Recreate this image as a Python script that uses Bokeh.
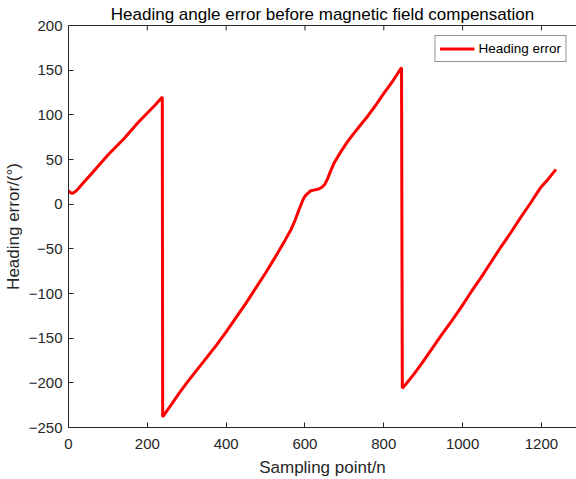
from bokeh.plotting import figure
from bokeh.models import Range1d, LinearAxis, FixedTicker, Legend, LegendItem
from bokeh.embed import file_html
from bokeh.resources import INLINE

# Data
sample_n = [0, 5, 10, 20, 30, 40, 60, 80, 100, 120, 140, 160, 180, 200, 220, 238,
            239, 250, 260, 280, 300, 325, 350, 375, 400, 425, 450, 475, 500, 525, 550,
            565, 575, 585, 595, 600, 607, 615, 625, 635, 643, 650, 657, 665, 675, 690,
            705, 720, 740, 760, 780, 800, 820, 832, 845,
            847, 857, 877, 897, 922, 947, 972, 997, 1022, 1047, 1072, 1097, 1122,
            1147, 1172, 1197, 1217, 1237]
heading_err = [15, 13, 12, 15, 20, 25, 35, 45, 55, 64, 73, 83, 93, 102, 111, 120,
               -238, -231, -225, -212, -200, -186, -172, -158, -143, -127, -111, -94, -77, -59, -40,
               -28, -18, -6, 5, 9, 12, 15, 16, 17, 19, 22, 28, 37, 47, 58,
               68, 77, 88, 99, 111, 124, 136, 144, 153,
               -206, -201, -190, -178, -162, -146, -131, -115, -98, -82, -65, -48, -32,
               -15, 1, 18, 28, 39]

x_ticks = [0, 200, 400, 600, 800, 1000, 1200]
y_ticks = [-250, -200, -150, -100, -50, 0, 50, 100, 150, 200]
X_MIN, X_MAX = 0, 1289
Y_MIN, Y_MAX = -250, 200

FONT = "Liberation Sans"
AX = "#262626"
TICK_PX = 5
W, H = 576, 479
B_LEFT, B_TOP, B_BOTTOM = 68, 25, 52
FRAME_H = H - B_TOP - B_BOTTOM

p = figure(width=W, height=H, output_backend="svg", toolbar_location=None,
           x_range=Range1d(X_MIN, X_MAX), y_range=Range1d(Y_MIN, Y_MAX),
           min_border=0,
           min_border_left=B_LEFT, min_border_right=0, min_border_top=B_TOP,
           min_border_bottom=B_BOTTOM,
           background_fill_color="white", border_fill_color="white")
p.outline_line_color = None
p.xgrid.visible = False
p.ygrid.visible = False

p.title.text = "Heading angle error before magnetic field compensation"
p.title.text_font = FONT
p.title.text_font_size = "17px"
p.title.text_font_style = "normal"
p.title.text_color = "#000000"
p.title.align = "center"
p.title.standoff = 4

for ax in (p.xaxis[0], p.yaxis[0]):
    ax.axis_line_color = AX
    ax.major_tick_line_color = AX
    ax.major_tick_in = TICK_PX
    ax.major_tick_out = 0
    ax.minor_tick_line_color = None
    ax.major_label_text_font = FONT
    ax.major_label_text_font_size = "15px"
    ax.major_label_text_color = AX
    ax.major_label_text_line_height = 1.0
    ax.axis_label_text_font = FONT
    ax.axis_label_text_font_size = "17px"
    ax.axis_label_text_font_style = "normal"
    ax.axis_label_text_color = AX
    ax.axis_label_text_line_height = 1.0

p.xaxis[0].ticker = FixedTicker(ticks=x_ticks)
p.yaxis[0].ticker = FixedTicker(ticks=y_ticks)
p.xaxis[0].axis_label = "Sampling point/n"
p.yaxis[0].axis_label = "Heading error/(°)"
p.xaxis[0].major_label_standoff = 11
p.xaxis[0].axis_label_standoff = 6
p.yaxis[0].major_label_standoff = 6
p.yaxis[0].axis_label_standoff = 3

# top border line (box on)
top_ax = LinearAxis(ticker=FixedTicker(ticks=[]))
top_ax.axis_line_color = AX
top_ax.major_tick_line_color = None
top_ax.minor_tick_line_color = None
top_ax.major_label_standoff = 0
p.add_layout(top_ax, "above")

# inward ticks on the top border, taken from the x tick list
tick_len = TICK_PX * (Y_MAX - Y_MIN) / FRAME_H
p.segment(x0=x_ticks, y0=[Y_MAX] * len(x_ticks), x1=x_ticks,
          y1=[Y_MAX - tick_len] * len(x_ticks), line_color=AX, line_width=1)

r = p.line(sample_n, heading_err, line_color="#FF0000", line_width=3)

legend = Legend(items=[LegendItem(label="Heading error", renderers=[r])],
                location="top_right")
legend.label_text_font = FONT
legend.label_text_font_size = "13.5px"
legend.label_text_color = "#000000"
legend.glyph_width = 35
legend.glyph_height = 17
legend.label_height = 17
legend.label_standoff = 4
legend.padding = 4
legend.margin = 10
legend.border_line_color = AX
legend.border_line_width = 1
legend.background_fill_color = "white"
legend.background_fill_alpha = 1
p.add_layout(legend, "center")

open("out.html", "w").write(file_html(p, INLINE))
